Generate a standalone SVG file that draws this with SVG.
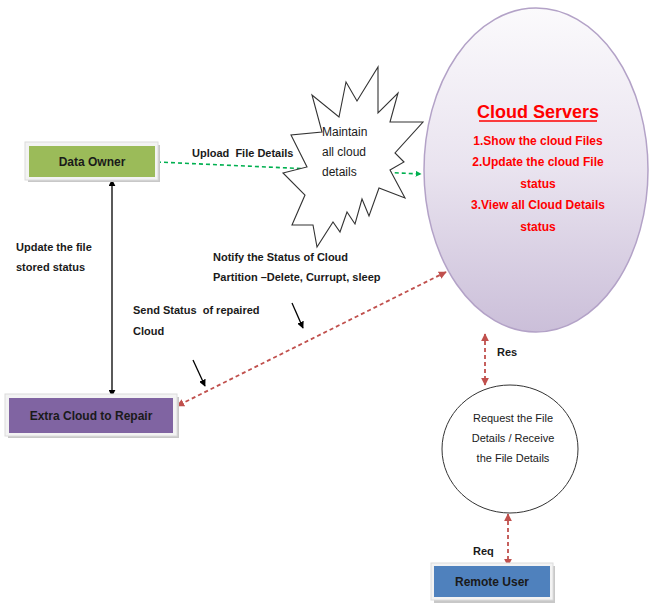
<svg xmlns="http://www.w3.org/2000/svg" width="650" height="603" viewBox="0 0 650 603">
  <defs>
    <linearGradient id="cloudFill" x1="0" y1="0" x2="0" y2="1">
      <stop offset="0" stop-color="#fbfafc"/>
      <stop offset="0.5" stop-color="#e9e3ef"/>
      <stop offset="1" stop-color="#cbbfd9"/>
    </linearGradient>
    <marker id="ahGreen" viewBox="0 0 10 10" refX="9" refY="5" markerWidth="6" markerHeight="6" orient="auto-start-reverse" markerUnits="userSpaceOnUse">
      <path d="M0,0 L10,5 L0,10 Z" fill="#00b050"/>
    </marker>
    <marker id="ahRed" viewBox="0 0 10 10" refX="9" refY="5" markerWidth="8" markerHeight="8" orient="auto-start-reverse" markerUnits="userSpaceOnUse">
      <path d="M0,0 L10,5 L0,10 Z" fill="#c0504d"/>
    </marker>
    <marker id="ahBlack" viewBox="0 0 10 10" refX="9" refY="5" markerWidth="7" markerHeight="7" orient="auto-start-reverse" markerUnits="userSpaceOnUse">
      <path d="M0,0 L10,5 L0,10 Z" fill="#000"/>
    </marker>
  </defs>
  <style>
    text { font-family: "Liberation Sans", Arial, sans-serif; fill: #1a1a1a; white-space: pre; }
    .lbl { font-size: 11px; font-weight: bold; }
    .box { font-size: 12px; font-weight: bold; text-anchor: middle; }
    .reg { font-size: 12px; }
    .reg11 { font-size: 11px; text-anchor: middle; }
    .srv { font-size: 12px; font-weight: bold; text-anchor: middle; fill: #ff0000; }
    .frame { fill: #f3f3f3; stroke: #dcdcdc; stroke-width: 1; }
    .shadow { fill: #c8c8c8; }
    .green { stroke: #00b050; stroke-width: 1.6; stroke-dasharray: 4 3; fill: none; }
    .red { stroke: #c0504d; stroke-width: 1.8; stroke-dasharray: 4 3; fill: none; }
    .black { stroke: #000; stroke-width: 1.3; fill: none; }
  </style>

  <rect width="650" height="603" fill="#fff"/>

  <!-- connectors -->
  <g id="connectors">
    <line class="green" x1="157" y1="162" x2="421" y2="174" marker-end="url(#ahGreen)"/>
    <line class="black" x1="112" y1="180" x2="112" y2="396" marker-start="url(#ahBlack)" marker-end="url(#ahBlack)"/>
    <line class="red" x1="446" y1="272" x2="177" y2="406" marker-start="url(#ahRed)" marker-end="url(#ahRed)"/>
    <line class="red" x1="485" y1="334" x2="485" y2="385" marker-start="url(#ahRed)" marker-end="url(#ahRed)"/>
    <line class="red" x1="508" y1="514" x2="508" y2="566" marker-start="url(#ahRed)" marker-end="url(#ahRed)"/>
    <line class="black" x1="292" y1="303" x2="303" y2="328" marker-end="url(#ahBlack)"/>
    <line class="black" x1="193" y1="360" x2="205" y2="386" marker-end="url(#ahBlack)"/>
  </g>

  <!-- connector labels -->
  <g id="labels">
    <text class="lbl" x="192" y="157">Upload  File Details</text>
    <text class="lbl" x="16" y="251">Update the file</text>
    <text class="lbl" x="16" y="271">stored status</text>
    <text class="lbl" x="213" y="261">Notify the Status of Cloud</text>
    <text class="lbl" x="213" y="281">Partition –Delete, Currupt, sleep</text>
    <text class="lbl" x="133" y="314">Send Status  of repaired</text>
    <text class="lbl" x="133" y="335">Cloud</text>
    <text class="lbl" x="497" y="356">Res</text>
    <text class="lbl" x="473" y="555">Req</text>
  </g>

  <!-- Data Owner -->
  <g id="data-owner">
    <rect class="shadow" x="28" y="145" width="132" height="37"/>
    <rect class="frame" x="25" y="142" width="133" height="38"/>
    <rect x="29" y="146" width="126" height="31" fill="#9bbb59"/>
    <text class="box" x="92" y="166">Data Owner</text>
  </g>

  <!-- Extra Cloud to Repair -->
  <g id="extra-cloud">
    <rect class="shadow" x="8" y="397" width="171" height="41"/>
    <rect class="frame" x="5" y="394" width="172" height="42"/>
    <rect x="9" y="398" width="164" height="35" fill="#8064a2"/>
    <text class="box" x="91" y="420">Extra Cloud to Repair</text>
  </g>

  <!-- Remote User -->
  <g id="remote-user">
    <rect class="shadow" x="434" y="566" width="121" height="37"/>
    <rect class="frame" x="431" y="563" width="122" height="37"/>
    <rect x="434" y="566" width="116" height="31" fill="#4f81bd"/>
    <text class="box" x="492" y="586">Remote User</text>
  </g>

  <!-- Maintain all cloud details (explosion shape) -->
  <g id="maintain">
    <polygon points="378,67 378,113 398,93 390,122 423,122 395,153 404,162 390,170 405,198 379,188 369,216 362,199 355,224 347,212 340,232 333,222 317,247 313,225 292,225 305,195 283,173 307,167 291,135 322,132 312,95 339,117 346,82 357,101" fill="#fff" stroke="#333" stroke-width="1.1" stroke-linejoin="miter"/>
    <text class="reg" x="322" y="136">Maintain</text>
    <text class="reg" x="322" y="156">all cloud</text>
    <text class="reg" x="322" y="176">details</text>
  </g>

  <!-- Cloud Servers -->
  <g id="cloud-servers">
    <ellipse cx="536" cy="170" rx="112" ry="162" fill="url(#cloudFill)" stroke="#b3a2c7" stroke-width="1.5"/>
    <text x="538" y="118" text-anchor="middle" font-size="18" font-weight="bold" style="fill:#ff0000">Cloud Servers</text>
    <line x1="479" y1="121" x2="597" y2="121" stroke="#ff0000" stroke-width="1.5"/>
    <text class="srv" x="538" y="145">1.Show the cloud Files</text>
    <text class="srv" x="538" y="166">2.Update the cloud File</text>
    <text class="srv" x="538" y="188">status</text>
    <text class="srv" x="538" y="209">3.View all Cloud Details</text>
    <text class="srv" x="538" y="231">status</text>
  </g>

  <!-- Request / Receive -->
  <g id="request">
    <ellipse cx="510" cy="449" rx="68" ry="64" fill="#fff" stroke="#333" stroke-width="1"/>
    <text class="reg11" x="513" y="422">Request the File</text>
    <text class="reg11" x="513" y="442">Details / Receive</text>
    <text class="reg11" x="513" y="462">the File Details</text>
  </g>
</svg>
